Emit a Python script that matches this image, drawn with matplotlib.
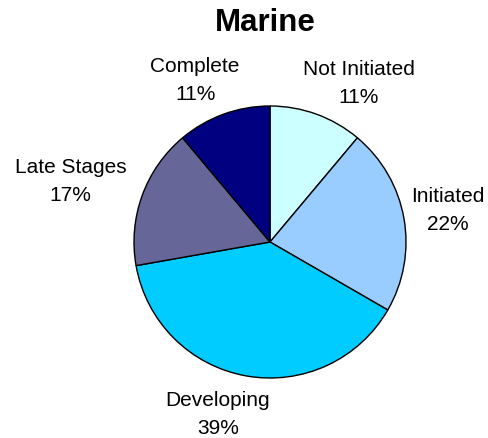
import matplotlib
matplotlib.use("Agg")
import matplotlib.pyplot as plt

# data
categories = ["Not Initiated", "Initiated", "Developing", "Late Stages", "Complete"]
counts = [2, 4, 7, 3, 2]
colors = ["#CCFFFF", "#99CCFF", "#00CCFF", "#666699", "#000080"]

# label anchor points, in units of the pie radius
label_x = [0.651, 1.309, -0.382, -1.467, -0.551]
label_y = [1.169, 0.235, -1.272, 0.445, 1.184]

plt.rcParams["font.family"] = ["Liberation Sans", "DejaVu Sans"]

fig = plt.figure(figsize=(4.88, 4.38), dpi=100)
fig.patch.set_facecolor("white")

# axes covers exactly the pie circle (center 270,242 px, radius 136 px)
ax = fig.add_axes([134 / 488, (438 - 242 - 136) / 438, 272 / 488, 272 / 438])

wedges, _ = ax.pie(counts, colors=colors, startangle=90, counterclock=False,
                   wedgeprops=dict(edgecolor="black", linewidth=1.0))
ax.set_xlim(-1, 1)
ax.set_ylim(-1, 1)
ax.axis("off")

total = sum(counts)
for name, c, lx, ly in zip(categories, counts, label_x, label_y):
    pct = round(100 * c / total)
    ax.text(lx, ly, f"{name}\n{pct}%", ha="center", va="center",
            fontsize=15, linespacing=1.6, clip_on=False)

fig.text(265 / 488, 1 - 23 / 438, "Marine", ha="center", va="center",
         fontsize=22.5, fontweight="bold")

fig.savefig("out.png", dpi=100)
plt.close()
